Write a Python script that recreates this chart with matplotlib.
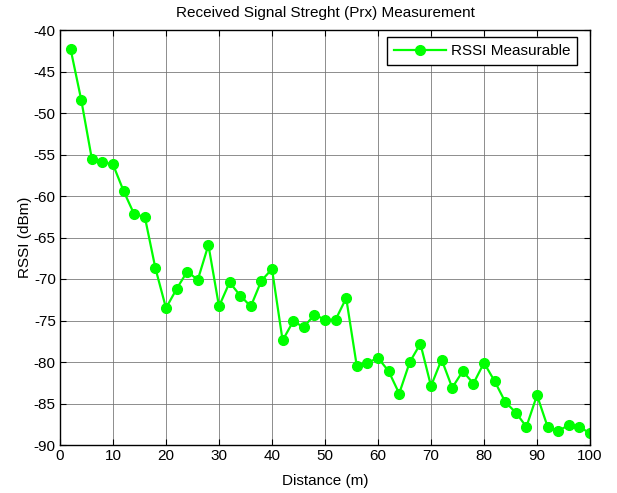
import matplotlib
matplotlib.use("Agg")
import matplotlib.pyplot as plt

plt.rcParams['font.family'] = ['Liberation Sans', 'DejaVu Sans']
plt.rcParams['axes.unicode_minus'] = False

distance = list(range(2, 101, 2))
rssi = [-42.3, -48.4, -55.5, -55.9, -56.2, -59.4, -62.2, -62.5, -68.7, -73.5,
        -71.2, -69.1, -70.1, -65.9, -73.3, -70.4, -72.0, -73.3, -70.2, -68.8,
        -77.4, -75.1, -75.8, -74.3, -74.9, -74.9, -72.3, -80.5, -80.1, -79.5,
        -81.1, -83.8, -80.0, -77.8, -82.9, -79.7, -83.1, -81.1, -82.6, -80.1,
        -82.3, -84.8, -86.1, -87.8, -84.0, -87.8, -88.3, -87.6, -87.8, -88.6]

xticks = list(range(0, 101, 10))
yticks = list(range(-90, -39, 5))

fig = plt.figure(figsize=(6.17, 4.93), dpi=100)
ax = fig.add_axes([60/617, 48/493, 530/617, 415/493])

ax.plot(distance, rssi, color='#00FF00', lw=1.6, marker='o', markersize=7,
        markerfacecolor='#00FF00', markeredgecolor='#00FF00', label='RSSI Measurable')

ax.set_xlim(0, 100)
ax.set_ylim(-90, -40)
ax.set_xticks(xticks)
ax.set_yticks(yticks)
ax.grid(True, color='#707070', lw=0.7, linestyle='-', alpha=0.8)
ax.tick_params(direction='in', top=True, right=True, length=4, labelsize=11,
               colors='black', pad=3)
for s in ax.spines.values():
    s.set_color('black')
    s.set_linewidth(1.0)

ax.set_xlabel('Distance (m)', fontsize=11, labelpad=8)
ax.set_ylabel('RSSI (dBm)', fontsize=11, labelpad=1)
ax.set_title('Received Signal Streght (Prx) Measurement', fontsize=11, pad=9)

leg = ax.legend(loc='upper right', bbox_to_anchor=(517/530, 408/415), borderaxespad=0,
                fontsize=11, fancybox=False, framealpha=1, edgecolor='black',
                handlelength=3.4, handletextpad=0.3, borderpad=0.45)
leg.get_frame().set_linewidth(1.0)

fig.savefig('out.png', dpi=100)
